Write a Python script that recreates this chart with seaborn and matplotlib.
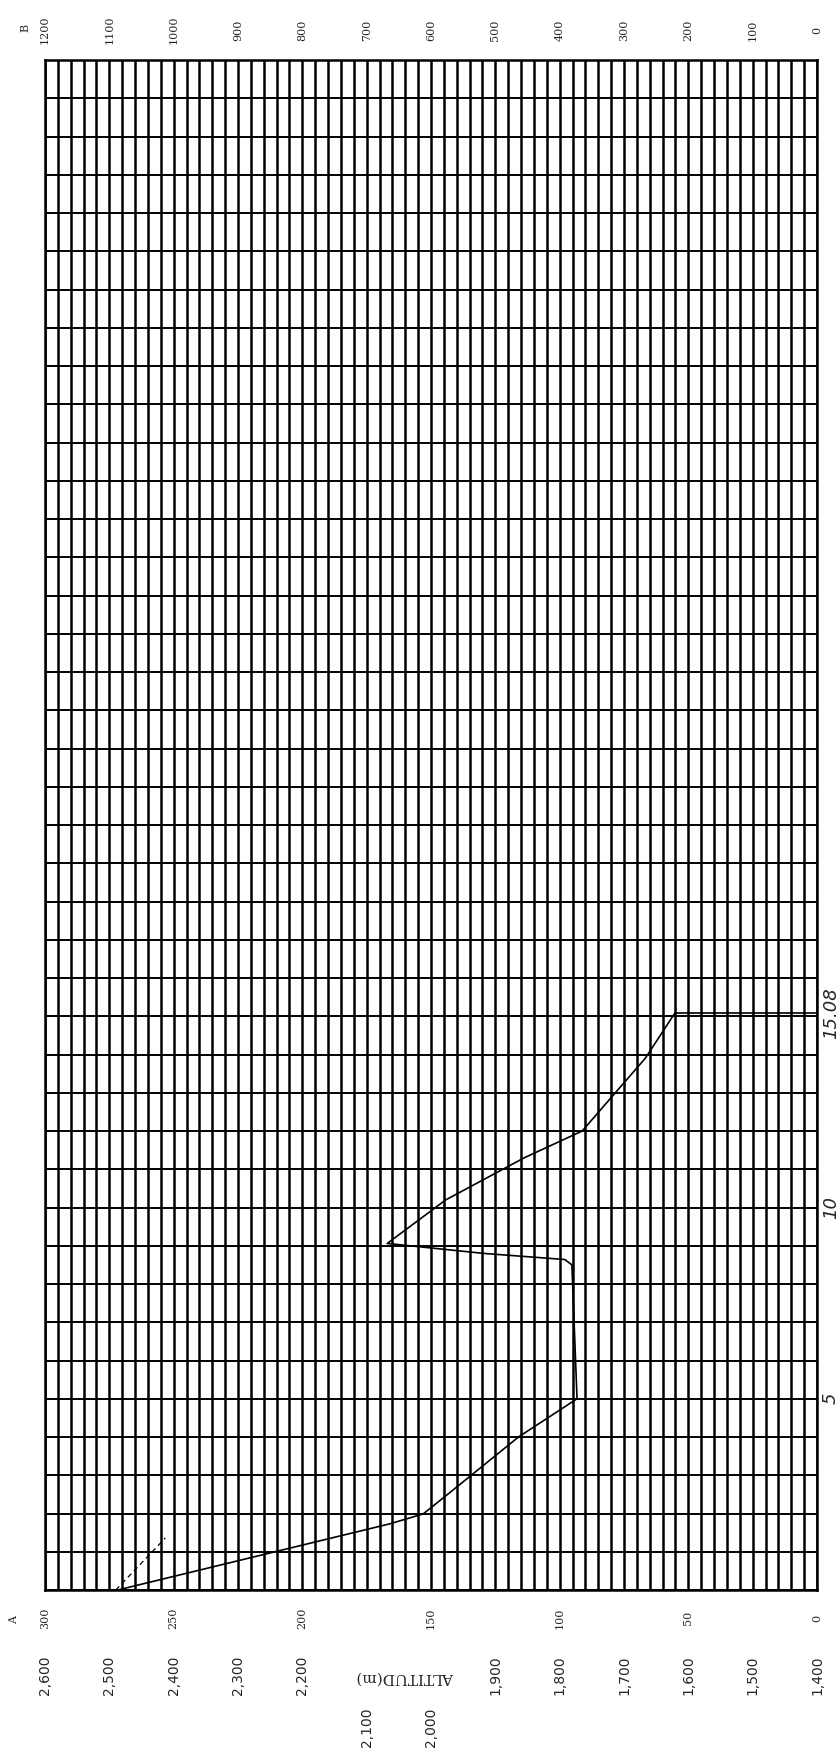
import matplotlib
matplotlib.use("Agg")
import numpy as np
import pandas as pd
import seaborn as sns
import matplotlib.pyplot as plt

# profile: altitude (m) against distance (km)
altitude = [2487, 2064, 2012, 1969, 1864, 1773, 1781, 1792, 1918, 2068,
            1977, 1855, 1765, 1667, 1621]
distance = [0.0, 1.73, 1.99, 2.57, 4.0, 5.0, 8.5, 8.64, 8.8, 9.06,
            10.2, 11.3, 12.0, 13.9, 15.08]

# drop line at the end of the profile
end_km = 15.08
drop_alt = [1621, 1400]

# short dashed stroke at the start
guide_alt = [2490, 2413]
guide_km = [0.0, 1.36]

# scales written round the sheet
b_ticks = [1200, 1100, 1000, 900, 800, 700, 600, 500, 400, 300, 200, 100, 0]
b_labels = ["1200", "1100", "1000", "900", "800", "700", "600", "500",
            "400", "300", "200", "100", "0"]
a_ticks = [300, 250, 200, 150, 100, 50, 0]
alt_ticks = [2600, 2500, 2400, 2300, 2200, 2100, 2000, 1900, 1800, 1700,
             1600, 1500, 1400]
alt_labels = ["2,600", "2,500", "2,400", "2,300", "2,200", "2,100", "2,000",
              "1,900", "1,800", "1,700", "1,600", "1,500", "1,400"]
km_ticks = [5, 10, 15.08]
km_labels = ["5", "10", "15.08"]

sns.set_style("white")
plt.rcParams['font.family'] = ['DejaVu Serif', 'DejaVu Sans']

fig = plt.figure(figsize=(8.37, 17.5), dpi=100)
W, H = 837, 1750
ax = fig.add_axes([45 / W, 1 - 1590 / H, (817 - 45) / W, 1530 / H])

df = pd.DataFrame({"altitude": altitude, "distance": distance})
sns.lineplot(data=df, x="altitude", y="distance", sort=False, estimator=None,
             color="black", linewidth=1.2, ax=ax)
ax.plot(drop_alt, [end_km, end_km], color="black", lw=1.2)
ax.plot(guide_alt, guide_km, color="black", lw=0.9, ls=(0, (4, 3)),
        clip_on=False)

ax.set_xlim(2600, 1400)
ax.set_ylim(0, 40)
ax.set_xticks(np.arange(1400, 2601, 20))
ax.set_yticks(np.arange(0, 41, 1))
ax.tick_params(length=0, labelbottom=False, labelleft=False)
ax.xaxis.grid(True, color="black", lw=1.8)
ax.yaxis.grid(True, color="black", lw=1.4)
ax.set_axisbelow(True)
for s in ax.spines.values():
    s.set_color("black")
    s.set_linewidth(1.8)
ax.set_xlabel("")
ax.set_ylabel("")

xt = ax.get_xaxis_transform()
yt = ax.get_yaxis_transform()

# top scale B
for v, lab in zip(b_ticks, b_labels):
    ax.text(v + 1400, 1.0196, lab, transform=xt, rotation=90, fontsize=8,
            ha="center", va="center")
fig.text(25 / W, 1 - 28 / H, "B", rotation=90, fontsize=8,
         ha="center", va="center")

# bottom scale A
for v in a_ticks:
    ax.text(v * 4 + 1400, -0.0183, str(v), transform=xt, rotation=90,
            fontsize=8, ha="center", va="center")
fig.text(14 / W, 1 - 1620 / H, "A", rotation=90, fontsize=8,
         ha="center", va="center")

# altitude scale
for v, lab in zip(alt_ticks, alt_labels):
    y = -0.0895 if v in (2100, 2000) else -0.0556
    ax.text(v, y, lab, transform=xt, rotation=90, fontsize=10,
            family="DejaVu Sans", ha="center", va="center")
ax.text(2040, -0.057, "ALTITUD(m)", transform=xt, rotation=180, fontsize=11,
        ha="center", va="center")

# distance marks on the right
for v, lab in zip(km_ticks, km_labels):
    ax.text(1.006, v, lab, transform=yt, rotation=90, fontsize=13,
            style="italic", family="DejaVu Sans", ha="left", va="center")

fig.savefig("out.png", dpi=100, facecolor="white")
